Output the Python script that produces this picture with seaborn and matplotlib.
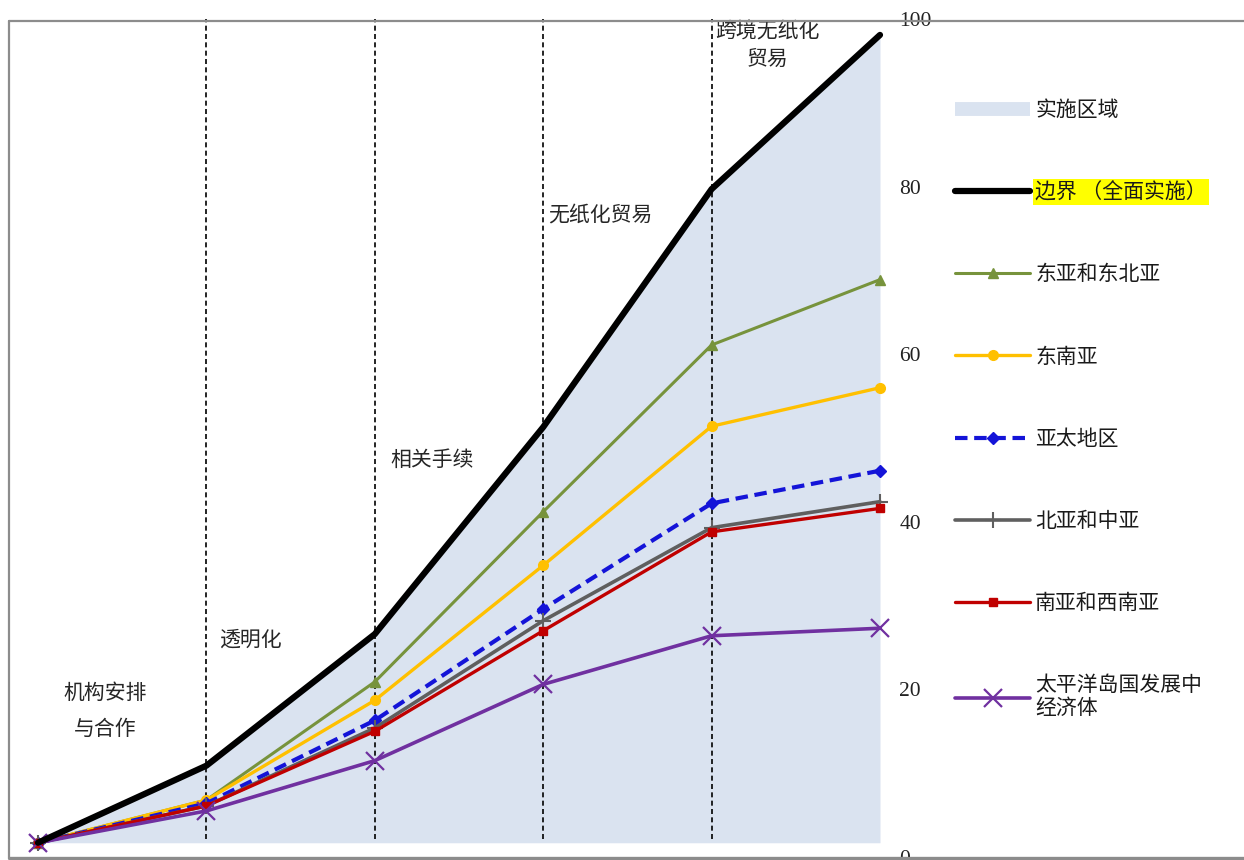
import matplotlib
matplotlib.use("Agg")
import matplotlib.pyplot as plt
import seaborn as sns
import numpy as np
from matplotlib.lines import Line2D

sns.set_style("white")
plt.rcParams['font.family'] = ['Noto Sans CJK SC', 'DejaVu Sans']

# ---------------- data ----------------
stages = [0, 1, 2, 3, 4, 5]
boundary = [1.7, 10.9, 26.6, 51.3, 79.7, 98.1]
east_ne_asia = [1.7, 6.8, 20.9, 41.2, 61.1, 68.9]
se_asia = [1.7, 6.8, 18.7, 34.8, 51.4, 56.0]
asia_pacific = [1.7, 6.4, 16.3, 29.6, 42.2, 46.1]
north_central = [1.7, 6.1, 15.4, 28.2, 39.3, 42.4]
south_sw = [1.7, 6.1, 15.0, 27.0, 38.8, 41.6]
pacific = [1.7, 5.5, 11.5, 20.6, 26.4, 27.3]

series_labels = ["东亚和东北亚", "东南亚", "亚太地区", "北亚和中亚",
                 "南亚和西南亚", "太平洋岛国发展中\n经济体"]
area_label = "实施区域"
boundary_label = "边界 （全面实施）"

stage_names = ["机构安排\n与合作", "透明化", "相关手续", "无纸化贸易", "跨境无纸化\n贸易"]
stage_label_x = [0.40, 1.26, 2.34, 3.34, 4.33]
stage_label_y = [17.4, 25.9, 47.4, 76.6, 96.9]
divider_x = [1, 2, 3, 4]
yticks = [0, 20, 40, 60, 80, 100]

# ---------------- figure ----------------
W, H = 1244, 860
fig = plt.figure(figsize=(W / 100, H / 100), dpi=100)
ax_left, ax_right = 9, 895
ax_top, ax_bot = 19, 857
ax = fig.add_axes([ax_left / W, (H - ax_bot) / H, (ax_right - ax_left) / W, (ax_bot - ax_top) / H])
ax.set_facecolor("none")

px_per = (880 - 38) / 5.0
ax.set_xlim(0 - (38 - ax_left) / px_per, 5 + (ax_right - 880) / px_per)
ax.set_ylim(0, 100)

fill_col = "#DAE3F0"
ax.fill_between(stages, boundary, [boundary[0]] * len(stages), color=fill_col, lw=0, zorder=1)

ax.vlines(divider_x, 2.2, 100, colors="black", linestyles=(0, (3, 2)), lw=1.2, zorder=2)

styles = [
    (east_ne_asia, "#77933C", "^", 7, 2.2, "-", 1),
    (se_asia, "#FFC000", "o", 7, 2.4, "-", 1),
    (asia_pacific, "#1414D8", "D", 6, 3.0, (0, (3, 1.6)), 1),
    (north_central, "#5F5F5F", "+", 12, 2.6, "-", 1.5),
    (south_sw, "#C00000", "s", 6, 2.4, "-", 1),
    (pacific, "#7030A0", "x", 13, 2.6, "-", 1.6),
]

sns.lineplot(x=stages, y=boundary, ax=ax, color="black", lw=4.5, zorder=5,
             solid_capstyle="round", label=boundary_label)
for (vals, col, mk, ms, lw, ls, mew), lab in zip(styles, series_labels):
    sns.lineplot(x=stages, y=vals, ax=ax, color=col, lw=lw, linestyle=ls,
                 marker=mk, markersize=ms, markeredgecolor=col, markerfacecolor=col,
                 markeredgewidth=mew, zorder=4, label=lab)

for name, x, y in zip(stage_names, stage_label_x, stage_label_y):
    ls_ = 1.85 if name.startswith("机构") else 1.3
    ax.text(x, y, name, ha="center", va="center", fontsize=15, color="#262626",
            linespacing=ls_, multialignment="center", zorder=6)

# right-side y labels
ax.yaxis.tick_right()
ax.set_yticks(yticks)
ax.set_yticklabels([str(t) for t in yticks], family="Liberation Serif", fontsize=15.5, color="#222222")
ax.tick_params(axis="y", length=0, pad=3)
ax.set_xticks([])
ax.set_xlabel("")
ax.set_ylabel("")
for s in ax.spines.values():
    s.set_visible(False)

# outer frame
fig.add_artist(Line2D([ax_left / W, 1], [1 - 21 / H, 1 - 21 / H], transform=fig.transFigure,
                      color="#8C8C8C", lw=1.6))
fig.add_artist(Line2D([ax_left / W, 1], [1 - 858 / H, 1 - 858 / H], transform=fig.transFigure,
                      color="#8C8C8C", lw=2.4))
fig.add_artist(Line2D([ax_left / W, ax_left / W], [1 - 21 / H, 1 - 858 / H], transform=fig.transFigure,
                      color="#8C8C8C", lw=1.6))

# legend
handles, labels = ax.get_legend_handles_labels()
area_handle = Line2D([], [], color=fill_col, lw=10, solid_capstyle="butt")
handles = [area_handle] + handles
labels = [area_label] + labels
leg = fig.legend(handles, labels, loc="upper left", bbox_to_anchor=(955 / W, 1 - 99 / H),
                 frameon=False, fontsize=15, handlelength=3.6, handletextpad=0.25,
                 labelspacing=2.89, borderpad=0, borderaxespad=0)
if ax.get_legend() is not None:
    ax.get_legend().remove()
for t in leg.get_texts():
    t.set_color("#1a1a1a")
leg.get_texts()[1].set_bbox(dict(facecolor="#FFFF00", edgecolor="none", pad=1.5))
leg.get_texts()[-1].set_linespacing(1.05)

fig.savefig("out.png", dpi=100, facecolor="white")
